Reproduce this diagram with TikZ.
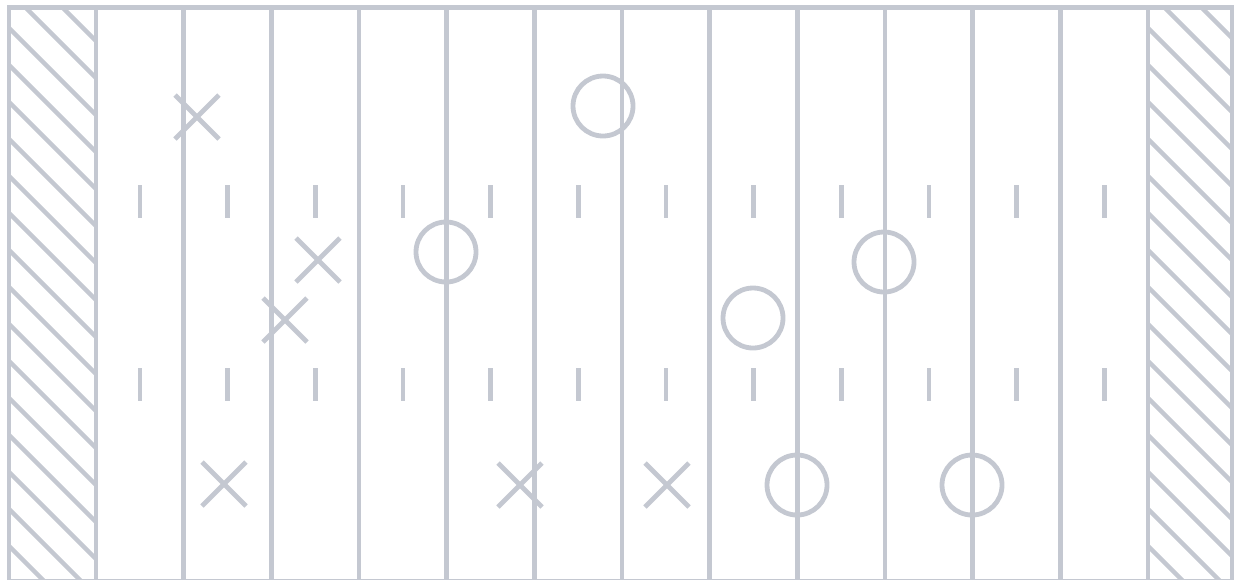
\documentclass[tikz,border=0pt]{standalone}
\usepackage{tikz}
\definecolor{fieldgray}{RGB}{196,200,209}

\begin{document}
\begin{tikzpicture}[x=0.1mm, y=-0.1mm,
  field/.style={draw=fieldgray, line width=0.48mm},
  hatch/.style={draw=fieldgray, line width=0.44mm}]
\useasboundingbox (0,0) rectangle (1235,579);
\clip (0,0) rectangle (1235,579);
% end zones
\begin{scope}
\clip (9,7.5) rectangle (96,581);
\foreach \k in {-16,...,2}
  \draw[hatch] ({18+37*\k-20},-20) -- ++(700,700);
\end{scope}
\begin{scope}
\clip (1148,7.5) rectangle (1232,581);
\foreach \k in {-17,...,1}
  \draw[hatch] ({1194+37*\k-20},-20) -- ++(700,700);
\end{scope}
% yard lines
\foreach \k in {0,...,12}
  \draw[field] ({96+87.67*\k},7.5) -- ({96+87.67*\k},581);
% hash marks
\foreach \k in {0,...,11} {
  \draw[field] ({140+87.67*\k},185) -- ++(0,33);
  \draw[field] ({140+87.67*\k},368) -- ++(0,33);
}
% border
\draw[field] (9,7.5) rectangle (1232,581.5);
% X
\foreach \x/\y in {197/117, 318/260, 285/320, 224/484, 520/485, 667/485}
  \draw[field] (\x-22,\y-22) -- (\x+22,\y+22) (\x-22,\y+22) -- (\x+22,\y-22);
% O
\foreach \x/\y in {603/106, 446/252, 884/262, 753/318, 797/485, 972/485}
  \draw[field] (\x,\y) circle (3mm);
\end{tikzpicture}
\end{document}
